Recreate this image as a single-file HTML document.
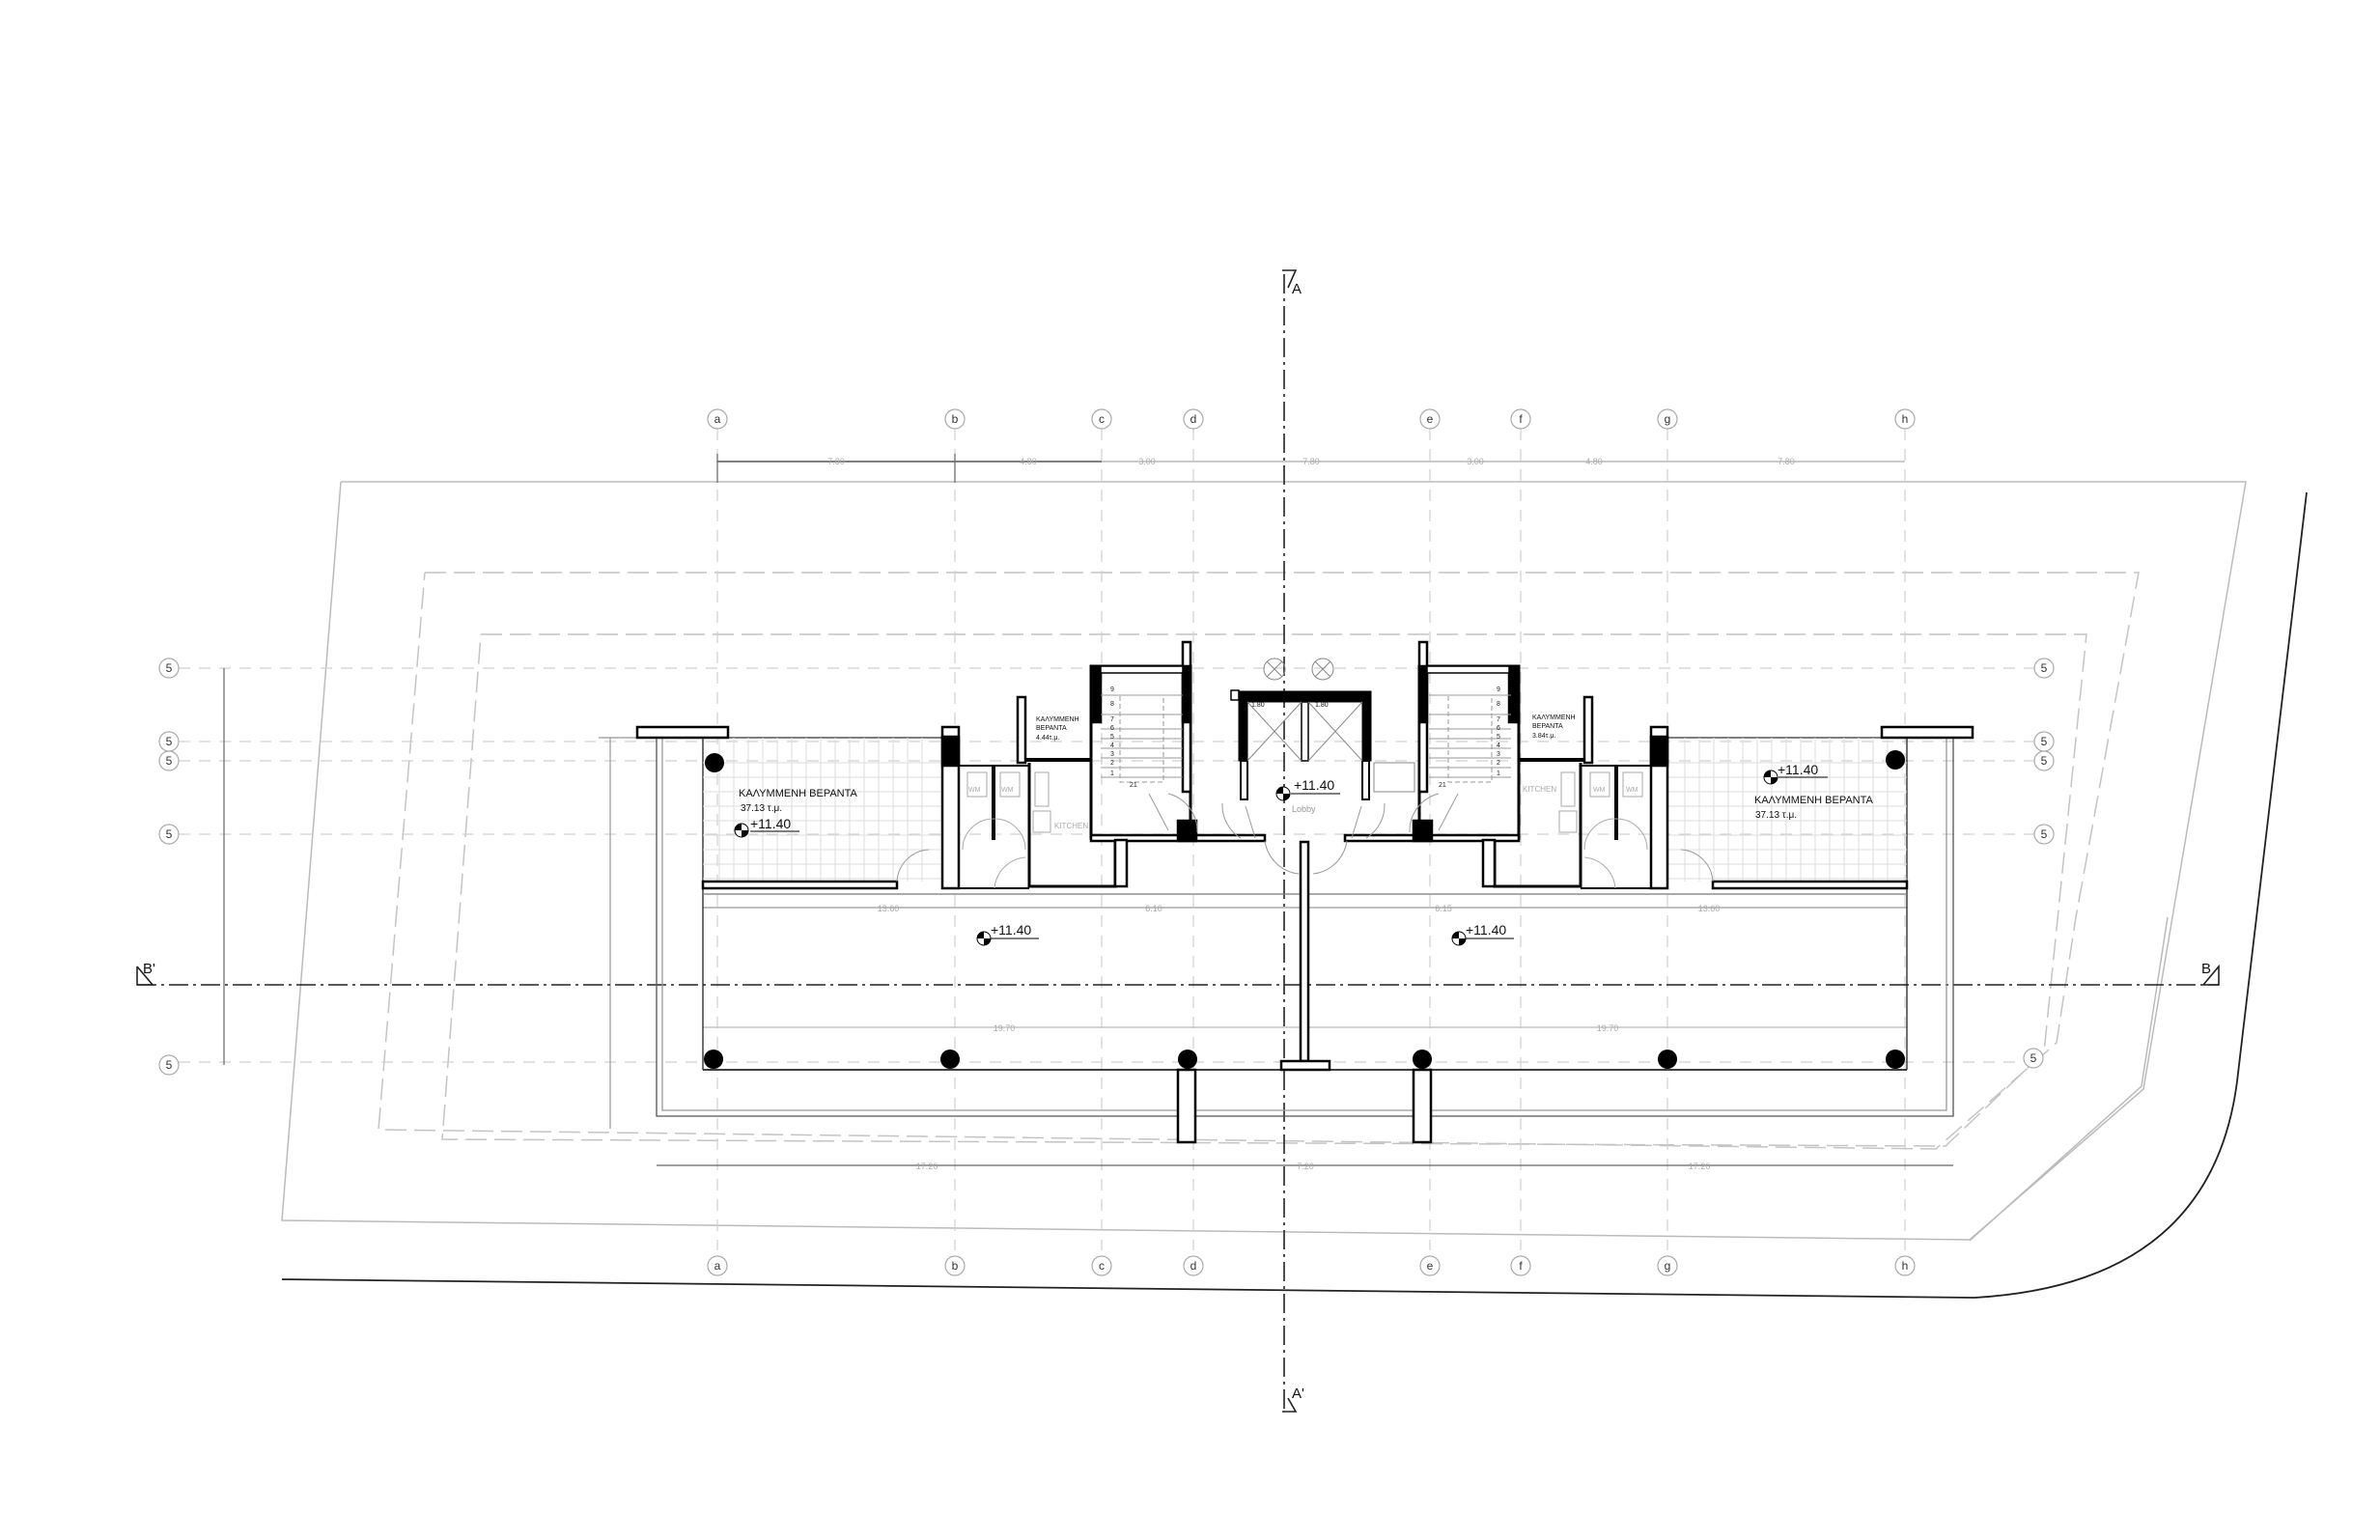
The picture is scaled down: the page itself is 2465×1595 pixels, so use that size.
<!DOCTYPE html>
<html><head><meta charset="utf-8"><style>
html,body{margin:0;padding:0;background:#fff}
svg{display:block}
text{font-family:"Liberation Sans",sans-serif}
</style></head><body>
<svg width="2465" height="1595" viewBox="0 0 2465 1595" xmlns="http://www.w3.org/2000/svg">
<rect width="2465" height="1595" fill="#fff"/>
<g fill="none" stroke="#bbb" stroke-width="1.5">
<polyline points="353,499 2326,499 2220,1128 2040,1284 292,1264 353,499"/>
<polyline points="2245,950 2218,1125 2040,1285"/>
</g>
<g fill="none" stroke="#c4c4c4" stroke-width="1.5" stroke-dasharray="22,8">
<polyline points="440,593 2215,593 2150,950 2130,1080 2005,1190 392,1170 440,593"/>
<polyline points="498,657 2161,657 2117,1090 2015,1187 458,1180 498,657"/>
</g>
<path d="M292,1325 L2045,1344 Q2290,1330 2317,1120 L2389,510" fill="none" stroke="#222" stroke-width="1.8"/>
<g stroke="#d0d0d0" stroke-width="1.2" stroke-dasharray="12,9" fill="none">
<line x1="743" y1="444" x2="743" y2="1295"/><line x1="989" y1="444" x2="989" y2="1295"/>
<line x1="1141" y1="444" x2="1141" y2="1295"/><line x1="1236" y1="444" x2="1236" y2="1295"/>
<line x1="1481" y1="444" x2="1481" y2="1295"/><line x1="1575" y1="444" x2="1575" y2="1295"/>
<line x1="1727" y1="444" x2="1727" y2="1295"/><line x1="1973" y1="444" x2="1973" y2="1295"/>
<line x1="185" y1="692" x2="2107" y2="692"/><line x1="185" y1="768" x2="2107" y2="768"/>
<line x1="185" y1="788" x2="2107" y2="788"/><line x1="185" y1="864" x2="2107" y2="864"/>
<line x1="185" y1="1100" x2="2096" y2="1100"/>
</g>
<g fill="#fff" stroke="#aaa" stroke-width="1.2">
<circle cx="743" cy="434" r="10"/><circle cx="989" cy="434" r="10"/><circle cx="1141" cy="434" r="10"/><circle cx="1236" cy="434" r="10"/>
<circle cx="1481" cy="434" r="10"/><circle cx="1575" cy="434" r="10"/><circle cx="1727" cy="434" r="10"/><circle cx="1973" cy="434" r="10"/>
<circle cx="743" cy="1311" r="10"/><circle cx="989" cy="1311" r="10"/><circle cx="1141" cy="1311" r="10"/><circle cx="1236" cy="1311" r="10"/>
<circle cx="1481" cy="1311" r="10"/><circle cx="1575" cy="1311" r="10"/><circle cx="1727" cy="1311" r="10"/><circle cx="1973" cy="1311" r="10"/>
<circle cx="175" cy="692" r="10"/><circle cx="175" cy="768" r="10"/><circle cx="175" cy="788" r="10"/><circle cx="175" cy="864" r="10"/><circle cx="175" cy="1103" r="10"/>
<circle cx="2117" cy="692" r="10"/><circle cx="2117" cy="768" r="10"/><circle cx="2117" cy="788" r="10"/><circle cx="2117" cy="864" r="10"/><circle cx="2106" cy="1096" r="10"/>
</g>
<g font-size="12" fill="#333" text-anchor="middle">
<text x="743" y="438">a</text><text x="989" y="438">b</text><text x="1141" y="438">c</text><text x="1236" y="438">d</text>
<text x="1481" y="438">e</text><text x="1575" y="438">f</text><text x="1727" y="438">g</text><text x="1973" y="438">h</text>
<text x="743" y="1315">a</text><text x="989" y="1315">b</text><text x="1141" y="1315">c</text><text x="1236" y="1315">d</text>
<text x="1481" y="1315">e</text><text x="1575" y="1315">f</text><text x="1727" y="1315">g</text><text x="1973" y="1315">h</text>
<text x="175" y="696">5</text><text x="175" y="772">5</text><text x="175" y="792">5</text><text x="175" y="868">5</text><text x="175" y="1107">5</text>
<text x="2117" y="696">5</text><text x="2117" y="772">5</text><text x="2117" y="792">5</text><text x="2117" y="868">5</text><text x="2106" y="1100">5</text>
</g>
<g stroke="#666" stroke-width="1.2" fill="none">
<line x1="743" y1="478" x2="1141" y2="478" stroke="#333"/>
<line x1="1141" y1="478" x2="1973" y2="478" stroke="#aaa"/>
<line x1="743" y1="470" x2="743" y2="500"/><line x1="989" y1="470" x2="989" y2="500"/>
<line x1="232" y1="692" x2="232" y2="1103"/>
<line x1="680" y1="1207" x2="2023" y2="1207"/>
<line x1="728" y1="940" x2="1975" y2="940" stroke="#999"/>
<line x1="728" y1="1064" x2="1975" y2="1064" stroke="#bbb"/>
<line x1="632" y1="764" x2="632" y2="1169" stroke="#999"/>
<line x1="620" y1="764" x2="680" y2="764" stroke="#999"/>
</g>
<g font-size="9" fill="#aaa" text-anchor="middle">
<text x="866" y="481">7.80</text><text x="1065" y="481">4.80</text><text x="1188" y="481">3.00</text><text x="1358" y="481">7.80</text>
<text x="1528" y="481">3.00</text><text x="1651" y="481">4.80</text><text x="1850" y="481">7.80</text>
<text x="920" y="944">13.60</text><text x="1195" y="944">6.10</text><text x="1495" y="944">6.15</text><text x="1770" y="944">13.60</text>
<text x="1040" y="1068">19.70</text><text x="1665" y="1068">19.70</text>
<text x="960" y="1211">17.20</text><text x="1352" y="1211">7.20</text><text x="1760" y="1211">17.20</text>
</g>
<g stroke="#222" stroke-width="1.6" fill="none">
<line x1="1330" y1="284" x2="1330" y2="1461" stroke-dasharray="20,5,3,5"/>
<line x1="142" y1="1020" x2="2298" y2="1020" stroke-dasharray="20,5,3,5"/>
<polyline points="1328,280 1342,280 1334,298"/>
<polyline points="1328,1462 1342,1462 1334,1448"/>
<polyline points="142,1001 142,1020 158,1020 142,1001"/>
<polyline points="2282,1020 2298,1020 2298,1001 2282,1020"/>
</g>
<g font-size="15" fill="#111">
<text x="1338" y="304">A</text><text x="1338" y="1448">A'</text>
<text x="148" y="1008">B'</text><text x="2280" y="1008">B</text>
</g>
<g fill="none" stroke="#555" stroke-width="1.3">
<polyline points="680,764 680,1156 2023,1156 2023,764"/>
<polyline points="686,764 686,1150 2016,1150 2016,764" stroke="#999"/>
<line x1="728" y1="764" x2="728" y2="1108" stroke="#222"/>
<line x1="1975" y1="764" x2="1975" y2="1108" stroke="#222"/>
<line x1="728" y1="1108" x2="1975" y2="1108" stroke="#222" stroke-width="1.8"/>
<line x1="728" y1="926" x2="1975" y2="926" stroke="#777"/>
<line x1="754" y1="764" x2="976" y2="764" stroke="#333"/>
<line x1="1727" y1="764" x2="1949" y2="764" stroke="#333"/>
</g>
<g stroke="#ddd" stroke-width="1">
<path d="M728,790H976M728,805H976M728,820H976M728,835H976M728,850H976M728,865H976M728,880H976M728,895H976M728,910H976
M745,764V913M760,764V913M775,764V913M790,764V913M805,764V913M820,764V913M835,764V913M850,764V913M865,764V913M880,764V913M895,764V913M910,764V913M925,764V913M940,764V913M955,764V913"/>
<path d="M1727,790H1975M1727,805H1975M1727,820H1975M1727,835H1975M1727,850H1975M1727,865H1975M1727,880H1975M1727,895H1975M1727,910H1975
M1745,764V913M1760,764V913M1775,764V913M1790,764V913M1805,764V913M1820,764V913M1835,764V913M1850,764V913M1865,764V913M1880,764V913M1895,764V913M1910,764V913M1925,764V913M1940,764V913M1955,764V913"/>
</g>
<g fill="#000">
<circle cx="740" cy="790" r="10"/><circle cx="1963" cy="787" r="10"/>
<circle cx="739" cy="1097" r="10"/><circle cx="984" cy="1097" r="10"/><circle cx="1230" cy="1097" r="10"/>
<circle cx="1473" cy="1097" r="10"/><circle cx="1727" cy="1097" r="10"/><circle cx="1963" cy="1097" r="10"/>
</g>
<g fill="#fff" stroke="#000" stroke-width="2.5">
<rect x="1220" y="1108" width="18" height="75"/><rect x="1464" y="1108" width="18" height="75"/>
<rect x="1347" y="872" width="8" height="227"/><rect x="1327" y="1099" width="50" height="9"/>
</g>
<g id="half" fill="#fff" stroke="#000" stroke-width="2.5">
<rect x="660" y="753" width="94" height="11"/>
<rect x="728" y="913" width="201" height="7"/>
<rect x="976" y="753" width="17" height="167"/>
<rect x="976" y="763" width="17" height="30" fill="#000"/>
<path d="M993,793H1066M993,920H1066" fill="none" stroke-width="2"/>
<line x1="1029" y1="793" x2="1029" y2="870" stroke-width="4"/>
<rect x="1054" y="722" width="8" height="68"/>
<line x1="1062" y1="787" x2="1130" y2="787" stroke-width="4"/>
<path d="M1066,790V918H1155V870" fill="none" stroke-width="3"/>
<rect x="1130" y="690" width="103" height="178" fill="none" stroke-width="3"/>
<rect x="1130" y="690" width="10" height="58" fill="#000"/>
<rect x="1225" y="665" width="8" height="155"/>
<rect x="1225" y="690" width="8" height="58" fill="#000"/>
<rect x="1140" y="690" width="85" height="7" fill="#fff" stroke-width="1.5"/>
<rect x="1130" y="865" width="180" height="6"/>
<rect x="1220" y="850" width="19" height="21" fill="#000"/>
<rect x="1155" y="870" width="12" height="48"/>
<g stroke="#aaa" stroke-width="1" fill="none">
<rect x="1002" y="800" width="20" height="25"/><rect x="1036" y="800" width="20" height="25"/>
<path d="M997,880 A32,32 0 0 1 1029,848 M1062,880 A32,32 0 0 0 1029,848"/>
<path d="M1030,920 A35,35 0 0 1 1062,888"/>
<rect x="1072" y="800" width="14" height="35"/><rect x="1070" y="840" width="18" height="22"/>
</g>
</g>
<use href="#half" transform="translate(2703,0) scale(-1,1)"/>
<g stroke="#999" stroke-width="1" fill="none">
<path d="M1140,720H1225M1140,740H1225M1140,755H1225M1140,765H1225M1140,775H1225M1140,785H1225M1140,795H1225M1140,805H1225"/>
<rect x="1160" y="720" width="45" height="90" stroke-dasharray="5,3"/>
<path d="M1480,720H1565M1480,740H1565M1480,755H1565M1480,765H1565M1480,775H1565M1480,785H1565M1480,795H1565M1480,805H1565"/>
<rect x="1500" y="720" width="45" height="90" stroke-dasharray="5,3"/>
<path d="M1210,822 A40,40 0 0 1 1240,862 M1190,822 L1210,860"/>
<path d="M1266,832 A40,40 0 0 0 1285,868 M1300,868 L1290,835"/>
<path d="M1434,832 A40,40 0 0 1 1415,868 M1400,868 L1410,835"/>
<path d="M1490,822 A40,40 0 0 0 1460,862 M1510,822 L1490,860"/>
<path d="M1310,871 A40,40 0 0 0 1345,905 M1395,871 A40,40 0 0 1 1360,905"/>
<path d="M929,913 A35,35 0 0 1 962,880 M1774,913 A35,35 0 0 0 1741,880"/>
</g>
<g font-size="7" fill="#222">
<text x="1150" y="716">9</text><text x="1150" y="731">8</text><text x="1150" y="747">7</text><text x="1150" y="756">6</text><text x="1150" y="765">5</text><text x="1150" y="774">4</text><text x="1150" y="783">3</text><text x="1150" y="792">2</text><text x="1150" y="803">1</text>
<text x="1550" y="716">9</text><text x="1550" y="731">8</text><text x="1550" y="747">7</text><text x="1550" y="756">6</text><text x="1550" y="765">5</text><text x="1550" y="774">4</text><text x="1550" y="783">3</text><text x="1550" y="792">2</text><text x="1550" y="803">1</text>
<text x="1170" y="815">21</text><text x="1490" y="815">21</text>
</g>
<g stroke="#000">
<rect x="1283" y="716" width="137" height="11" fill="#000"/>
<rect x="1283" y="716" width="9" height="72" fill="#000"/>
<rect x="1411" y="716" width="9" height="72" fill="#000"/>
<rect x="1348" y="727" width="7" height="61" fill="#fff" stroke-width="1.5"/>
<rect x="1285" y="788" width="7" height="40" fill="#fff" stroke-width="2"/>
<rect x="1411" y="788" width="7" height="40" fill="#fff" stroke-width="2"/>
<rect x="1275" y="715" width="8" height="10" fill="#fff" stroke-width="1.5"/>
</g>
<g stroke="#888" stroke-width="1" fill="none">
<path d="M1292,727L1348,788M1348,727L1292,788M1355,727L1411,788M1411,727L1355,788"/>
<circle cx="1320" cy="693" r="11"/><circle cx="1370" cy="693" r="11"/>
<path d="M1312,685L1328,701M1328,685L1312,701M1362,685L1378,701M1378,685L1362,701"/>
<rect x="1423" y="790" width="42" height="30"/>
</g>
<g fill="#111">
<text x="765" y="825" font-size="11">ΚΑΛΥΜΜΕΝΗ ΒΕΡΑΝΤΑ</text>
<text x="767" y="840" font-size="10">37.13 τ.μ.</text>
<text x="777" y="858" font-size="14">+11.40</text>
<text x="1817" y="832" font-size="11">ΚΑΛΥΜΜΕΝΗ ΒΕΡΑΝΤΑ</text>
<text x="1818" y="847" font-size="10">37.13 τ.μ.</text>
<text x="1841" y="802" font-size="14">+11.40</text>
<text x="1026" y="968" font-size="14">+11.40</text>
<text x="1518" y="968" font-size="14">+11.40</text>
<text x="1340" y="818" font-size="14">+11.40</text>
<text x="1338" y="841" font-size="9" fill="#999">Lobby</text>
<text x="1073" y="747" font-size="7">ΚΑΛΥΜΜΕΝΗ</text><text x="1073" y="756" font-size="7">ΒΕΡΑΝΤΑ</text><text x="1073" y="766" font-size="7">4.44τ.μ.</text>
<text x="1587" y="745" font-size="7">ΚΑΛΥΜΜΕΝΗ</text><text x="1587" y="754" font-size="7">ΒΕΡΑΝΤΑ</text><text x="1587" y="764" font-size="7">3.84τ.μ.</text>
<text x="1092" y="858" font-size="8" fill="#aaa">KITCHEN</text><text x="1577" y="820" font-size="8" fill="#aaa">KITCHEN</text>
<text x="1296" y="732" font-size="7">1.80</text><text x="1362" y="732" font-size="7">1.80</text>
<text x="1003" y="820" font-size="7" fill="#aaa">WM</text><text x="1037" y="820" font-size="7" fill="#aaa">WM</text>
<text x="1650" y="820" font-size="7" fill="#aaa">WM</text><text x="1684" y="820" font-size="7" fill="#aaa">WM</text>
</g>
<g stroke="#000" stroke-width="1">
<circle cx="768" cy="860" r="7" fill="#fff"/><circle cx="1834" cy="805" r="7" fill="#fff"/>
<circle cx="1019" cy="972" r="7" fill="#fff"/><circle cx="1511" cy="972" r="7" fill="#fff"/><circle cx="1329" cy="822" r="7" fill="#fff"/>
<line x1="777" y1="861" x2="828" y2="861"/><line x1="1842" y1="805" x2="1893" y2="805"/>
<line x1="1026" y1="972" x2="1076" y2="972"/><line x1="1518" y1="972" x2="1568" y2="972"/><line x1="1337" y1="822" x2="1388" y2="822"/>
</g>
<g fill="#000">
<path d="M768,860h-7a7,7 0 0 1 7,-7z M768,860h7a7,7 0 0 1 -7,7z"/>
<path d="M1834,805h-7a7,7 0 0 1 7,-7z M1834,805h7a7,7 0 0 1 -7,7z"/>
<path d="M1019,972h-7a7,7 0 0 1 7,-7z M1019,972h7a7,7 0 0 1 -7,7z"/>
<path d="M1511,972h-7a7,7 0 0 1 7,-7z M1511,972h7a7,7 0 0 1 -7,7z"/>
<path d="M1329,822h-7a7,7 0 0 1 7,-7z M1329,822h7a7,7 0 0 1 -7,7z"/>
</g>
</svg>
</body></html>
